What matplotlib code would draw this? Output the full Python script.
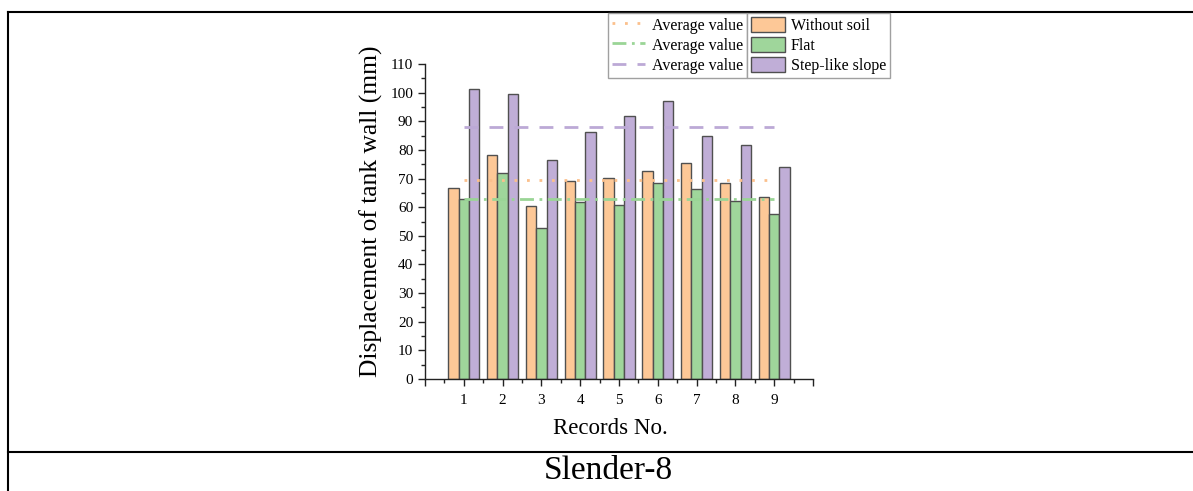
import numpy as np
import matplotlib
matplotlib.use("Agg")
import matplotlib.pyplot as plt
from matplotlib.lines import Line2D
from matplotlib.patches import Patch
from matplotlib.ticker import MultipleLocator, FixedLocator

plt.rcParams['font.family'] = ['Liberation Serif', 'DejaVu Serif']

records = [1, 2, 3, 4, 5, 6, 7, 8, 9]
without_soil = [66.8, 78.3, 60.4, 69.1, 70.3, 72.7, 75.4, 68.3, 63.7]
flat = [62.7, 72.0, 52.6, 61.7, 60.9, 68.3, 66.2, 62.3, 57.5]
step_like = [101.2, 99.5, 76.5, 86.1, 91.8, 97.1, 85.0, 81.8, 73.9]
series_names = ["Without soil", "Flat", "Step-like slope"]
avg_label = "Average value"
x_label = "Records No."
y_label = "Displacement of tank wall (mm)"
caption = "Slender-8"

W, H = 1193, 491
fig = plt.figure(figsize=(W / 100, H / 100), dpi=100)

def fx(px):
    return px / W

def fy(py):
    return 1 - py / H

ax = fig.add_axes([fx(425), fy(379), fx(813) - fx(425), fy(64) - fy(379)])

fills = ["#FDC897", "#9FD69B", "#C0AED7"]
line_cols = ["#FBC08C", "#9AD596", "#BCA9D6"]
styles = [(0, (1.0, 3.5)), (0, (5, 2, 1, 2)), (0, (5, 4))]
bw = 0.267
x = np.array(records, dtype=float)
data = [without_soil, flat, step_like]
for i, vals in enumerate(data):
    ax.bar(x + (i - 1) * bw, vals, width=bw, color=fills[i], edgecolor="#505050",
           linewidth=1.0, zorder=2)
for i, vals in enumerate(data):
    m = float(np.mean(vals))
    ax.plot([records[0], records[-1]], [m, m], color=line_cols[i], linestyle=styles[i],
            linewidth=2.0, zorder=3)

ax.set_xlim(0, 10)
ax.set_ylim(0, 110)
ax.spines['top'].set_visible(False)
ax.spines['right'].set_visible(False)
for s in ['left', 'bottom']:
    ax.spines[s].set_linewidth(1.0)
    ax.spines[s].set_color("#222222")
ax.xaxis.set_major_locator(FixedLocator(list(range(0, 11))))
ax.set_xticklabels([""] + [str(r) for r in records] + [""])
ax.xaxis.set_minor_locator(MultipleLocator(0.5))
ax.yaxis.set_major_locator(MultipleLocator(10))
ax.yaxis.set_minor_locator(MultipleLocator(5))
ax.tick_params(axis='both', which='major', direction='out', length=5, width=1.0,
               labelsize=11, color="#222222")
ax.tick_params(axis='both', which='minor', direction='out', length=3, width=1.0,
               color="#222222")
ax.tick_params(axis='x', which='major', pad=6)

fig.text(fx(371), fy(211), y_label, rotation=90, ha='center', va='center', fontsize=18.4)
fig.text(fx(610), fy(428), x_label, ha='center', va='center', fontsize=16.5)
fig.text(fx(608), fy(471), caption, ha='center', va='center', fontsize=24)

# table lines
lw = 1.5
fig.add_artist(Line2D([fx(8), 1.0], [fy(12), fy(12)], color='black', linewidth=lw,
                      transform=fig.transFigure))
fig.add_artist(Line2D([fx(8), 1.0], [fy(452), fy(452)], color='black', linewidth=lw,
                      transform=fig.transFigure))
fig.add_artist(Line2D([fx(8), fx(8)], [fy(12), 0.0], color='black', linewidth=lw,
                      transform=fig.transFigure))

line_handles = [Line2D([0], [0], color=line_cols[i], linestyle=styles[i], linewidth=2.0)
                for i in range(3)]
patch_handles = [Patch(facecolor=fills[i], edgecolor="#505050", linewidth=1.0)
                 for i in range(3)]
common = dict(fontsize=11.5, frameon=True, fancybox=False, framealpha=1,
              edgecolor="#A0A0A0", borderaxespad=0, labelspacing=0.2,
              borderpad=0.25, handletextpad=0.4)
leg1 = fig.legend(line_handles, [avg_label] * 3, loc='upper right',
                  bbox_to_anchor=(fx(747), fy(13)), handlelength=2.1,
                  handleheight=1.05, **common)
leg1.get_frame().set_linewidth(1.0)
leg2 = fig.legend(patch_handles, series_names, loc='upper left',
                  bbox_to_anchor=(fx(747), fy(13)), handlelength=2.1, handleheight=1.05,
                  **common)
leg2.get_frame().set_linewidth(1.0)

fig.savefig("out.png", dpi=100)
